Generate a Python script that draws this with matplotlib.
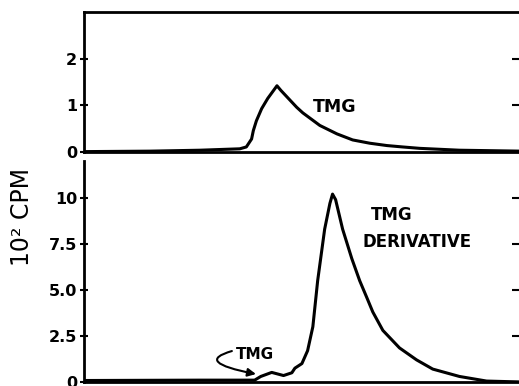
import numpy as np
import matplotlib.pyplot as plt

# fraction number (arbitrary units, no axis labels in the original)
frac_top = [0, 15.1, 26.5, 35.6, 37.1, 38.3, 38.7, 39.4, 40.6, 42.0, 44.1,
            45.0, 46.1, 47.0, 48.6, 50.0, 53.9, 57.8, 61.4, 65.3, 69.2, 72.8,
            76.7, 85.8, 100]
tmg = [0.01, 0.02, 0.04, 0.07, 0.11, 0.28, 0.46, 0.67, 0.93, 1.15, 1.42,
       1.32, 1.21, 1.12, 0.96, 0.84, 0.57, 0.39, 0.26, 0.19, 0.14, 0.11,
       0.08, 0.04, 0.02]

frac_bot = [0, 26.5, 39.0, 40.4, 42.9, 45.6, 47.5, 48.2, 49.8, 51.1, 52.3,
            53.4, 55.0, 56.2, 56.8, 57.5, 59.1, 61.2, 63.0, 64.6, 66.0, 68.3,
            72.1, 76.0, 79.7, 85.8, 92.0, 100]
tmg_deriv = [0.08, 0.1, 0.1, 0.3, 0.52, 0.35, 0.5, 0.75, 1.0, 1.7, 3.0,
             5.5, 8.3, 9.7, 10.2, 9.9, 8.3, 6.7, 5.5, 4.6, 3.8, 2.8,
             1.85, 1.2, 0.7, 0.3, 0.05, 0.0]

top_ticks = [0, 1, 2]
top_labels = ['0', '1', '2']
bot_ticks = [0, 2.5, 5.0, 7.5, 10]
bot_labels = ['0', '2.5', '5.0', '7.5', '10']

plt.rcParams['font.family'] = 'DejaVu Sans'

fig = plt.figure(figsize=(5.19, 3.86), dpi=100)
ax1 = fig.add_axes([0.1618, 0.606, 0.8432, 0.363])
ax2 = fig.add_axes([0.1618, 0.0104, 0.8432, 0.5726])

for ax in (ax1, ax2):
    for s in ax.spines.values():
        s.set_linewidth(2)
    ax.set_xlim(0, 100)
    ax.set_xticks([])
    ax.tick_params(axis='y', which='both', left=True, right=True,
                   direction='inout', length=6, width=1.5, pad=2,
                   labelsize=11.5, labelright=False)

ax2.spines['top'].set_visible(False)

ax1.plot(frac_top, tmg, color='black', lw=2.2, solid_joinstyle='round')
ax1.set_ylim(0, 3)
ax1.set_yticks(top_ticks)
ax1.set_yticklabels(top_labels, fontweight='bold')
ax1.text(57.2, 0.96, 'TMG', ha='center', va='center', fontsize=12.5,
         fontweight='bold')

ax2.plot(frac_bot, tmg_deriv, color='black', lw=2.2, solid_joinstyle='round')
ax2.set_ylim(0, 12)
ax2.set_yticks(bot_ticks)
ax2.set_yticklabels(bot_labels, fontweight='bold')
ax2.text(70.4, 9.08, 'TMG', ha='center', va='center', fontsize=12,
         fontweight='bold')
ax2.text(76.0, 7.6, 'DERIVATIVE', ha='center', va='center', fontsize=12,
         fontweight='bold')
ax2.text(39.0, 1.47, 'TMG', ha='center', va='center', fontsize=11,
         fontweight='bold')
ax2.annotate('', xy=(39.3, 0.43), xytext=(33.8, 1.68),
             arrowprops=dict(arrowstyle='-|>', color='black', lw=1.5,
                             shrinkA=0, shrinkB=0, mutation_scale=12,
                             connectionstyle='angle3,angleA=196,angleB=169'))

# right-hand ticks point inwards, the right spine lies just outside the crop
for ax in (ax1, ax2):
    for t in ax.yaxis.get_major_ticks():
        t.tick2line.set_marker(0)
        t.tick2line.set_markersize(7)

fig.text(22 / 519, 1 - 217 / 386, '10² CPM', rotation=90, ha='center',
         va='center', fontsize=17)

fig.savefig('out.png', dpi=100)
